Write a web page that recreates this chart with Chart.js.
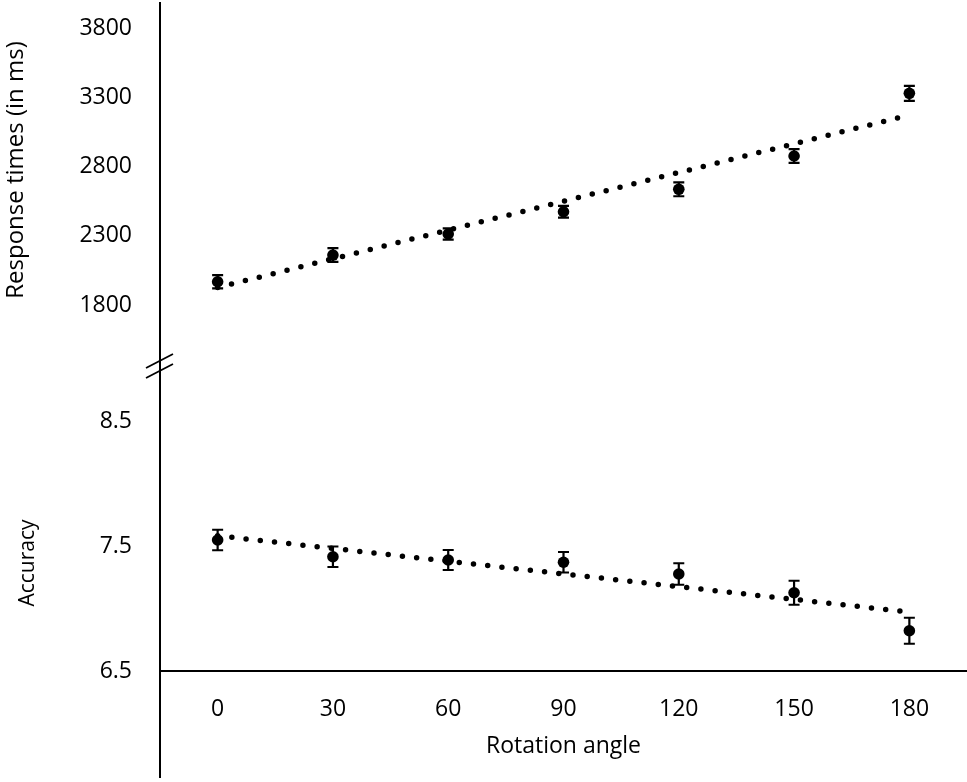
<!DOCTYPE html>
<html><head><meta charset="utf-8">
<script src="https://cdn.jsdelivr.net/npm/chart.js@4.4.1/dist/chart.umd.min.js"></script>
<style>html,body{margin:0;padding:0;background:#fff;overflow:hidden;}canvas{display:block;}</style>
</head><body><canvas id="c" width="967" height="782" style="width:967px;height:782px;"></canvas>
<script>
// ---- data ----
const angles = [0, 30, 60, 90, 120, 150, 180];
const rtMeans = [1968, 2161, 2313, 2474, 2636, 2877, 3330];
const rtErrors = [48, 50, 40, 43, 50, 50, 54];
const rtTrendEnds = [1926, 3173];          // dotted linear trend at 0° and 180°
const accMeans = [7.548, 7.414, 7.388, 7.370, 7.276, 7.126, 6.822];
const accErrors = [0.082, 0.082, 0.080, 0.082, 0.086, 0.096, 0.104];
const accTrendEnds = [7.582, 6.971];
const rtTicks = [1800, 2300, 2800, 3300, 3800];
const accTicks = [6.5, 7.5, 8.5];
const xTitle = 'Rotation angle';
const rtTitle = 'Response times (in ms)';
const accTitle = 'Accuracy';

const FONT = "'Open Sans', sans-serif";
const pts = (xs, ys) => xs.map((x, i) => ({x: x, y: ys[i]}));
const trendPts = ends => [{x: angles[0], y: ends[0]}, {x: angles[angles.length - 1], y: ends[1]}];

const trendStyle = {showLine: true, borderColor: '#000', borderWidth: 5.5, borderDash: [0, 14.3],
  borderCapStyle: 'round', pointRadius: 0, pointHoverRadius: 0, fill: false};
const markStyle = {showLine: false, pointRadius: 5.8, pointHoverRadius: 5.8,
  pointBackgroundColor: '#000', pointBorderColor: '#000', pointBorderWidth: 0};

const errorBars = {
  id: 'errorBars',
  afterDatasetsDraw(chart) {
    const ctx = chart.ctx;
    chart.data.datasets.forEach((ds, i) => {
      const errs = ds.label === 'RT' ? rtErrors : (ds.label === 'Accuracy' ? accErrors : null);
      if (!errs) return;
      const ys = chart.scales[ds.yAxisID], xs = chart.scales.x;
      ctx.save();
      ctx.strokeStyle = '#000'; ctx.lineWidth = 2.2;
      ds.data.forEach((p, j) => {
        const x = xs.getPixelForValue(p.x);
        const y0 = ys.getPixelForValue(p.y - errs[j]);
        const y1 = ys.getPixelForValue(p.y + errs[j]);
        ctx.beginPath();
        ctx.moveTo(x, y0); ctx.lineTo(x, y1);
        ctx.moveTo(x - 5.5, y0); ctx.lineTo(x + 5.5, y0);
        ctx.moveTo(x - 5.5, y1); ctx.lineTo(x + 5.5, y1);
        ctx.stroke();
      });
      ctx.restore();
    });
  }
};

const frame = {
  id: 'frame',
  afterDraw(chart) {
    const ctx = chart.ctx, a = chart.chartArea;
    const yb = chart.scales.yAcc.getPixelForValue(accTicks[0]);
    const brk = chart.scales.yRT.bottom;
    ctx.save();
    ctx.strokeStyle = '#000'; ctx.lineWidth = 2;
    ctx.beginPath();
    ctx.moveTo(a.left, 2); ctx.lineTo(a.left, chart.height - 4);
    ctx.moveTo(a.left, yb); ctx.lineTo(a.right, yb);
    ctx.stroke();
    ctx.lineWidth = 1.8;
    ctx.beginPath();
    ctx.moveTo(a.left - 14, brk - 2); ctx.lineTo(a.left + 13, brk - 16);
    ctx.moveTo(a.left - 14, brk + 8); ctx.lineTo(a.left + 13, brk - 6);
    ctx.stroke();
    // y-axis titles
    ctx.fillStyle = '#000';
    ctx.textAlign = 'center'; ctx.textBaseline = 'middle';
    ctx.font = "24px " + FONT;
    ctx.save(); ctx.translate(16, 170); ctx.rotate(-Math.PI / 2); ctx.fillText(rtTitle, 0, 0); ctx.restore();
    ctx.font = "21px " + FONT;
    ctx.save(); ctx.translate(28, 563); ctx.rotate(-Math.PI / 2); ctx.fillText(accTitle, 0, 0); ctx.restore();
    ctx.restore();
  }
};

const yCommon = {
  type: 'linear', position: 'left', stack: 'v',
  grid: {display: false, drawTicks: false}, border: {display: false},
  afterFit: s => { s.width = 160; s.paddingTop = 0; s.paddingBottom = 0; s.paddingLeft = 0; s.paddingRight = 0; }
};
const tickFont = {family: FONT, size: 23};

new Chart(document.getElementById('c'), {
  type: 'scatter',
  data: {
    datasets: [
      Object.assign({label: 'RT trend', data: trendPts(rtTrendEnds), yAxisID: 'yRT'}, trendStyle),
      Object.assign({label: 'RT', data: pts(angles, rtMeans), yAxisID: 'yRT'}, markStyle),
      Object.assign({label: 'Acc trend', data: trendPts(accTrendEnds), yAxisID: 'yAcc'}, trendStyle),
      Object.assign({label: 'Accuracy', data: pts(angles, accMeans), yAxisID: 'yAcc'}, markStyle)
    ]
  },
  options: {
    responsive: false, animation: false, devicePixelRatio: 1,
    layout: {autoPadding: false, padding: {top: 2, left: 0, right: 0, bottom: 0}},
    plugins: {legend: {display: false}, tooltip: {enabled: false}},
    scales: {
      x: {
        type: 'linear', position: 'bottom', min: -15, max: 195,
        afterBuildTicks: s => { s.ticks = angles.map(v => ({value: v})); },
        grid: {display: false, drawTicks: false}, border: {display: false},
        ticks: {color: '#000', font: tickFont, padding: 25, maxRotation: 0, autoSkip: false},
        title: {display: true, text: xTitle, color: '#000', font: tickFont, padding: {top: 0, bottom: 22}},
        afterFit: s => { s.height = 111; s.paddingLeft = 0; s.paddingRight = 0; }
      },
      yAcc: Object.assign({}, yCommon, {
        weight: 0, stackWeight: 301, min: 6.5, max: 8.908,
        afterBuildTicks: s => { s.ticks = accTicks.map(v => ({value: v})); },
        ticks: {color: '#000', font: tickFont, padding: 28, callback: v => v.toFixed(1)}
      }),
      yRT: Object.assign({}, yCommon, {
        weight: 1, stackWeight: 368, min: 1330, max: 3990,
        afterBuildTicks: s => { s.ticks = rtTicks.map(v => ({value: v})); },
        ticks: {color: '#000', font: tickFont, padding: 28, callback: v => String(v)}
      })
    }
  },
  plugins: [errorBars, frame]
});
</script></body></html>
